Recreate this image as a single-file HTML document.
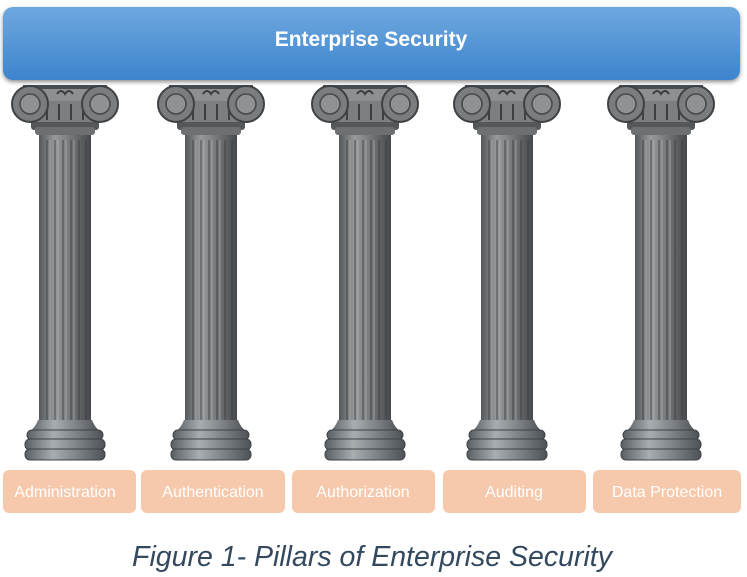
<!DOCTYPE html>
<html><head><meta charset="utf-8"><style>
html,body{margin:0;padding:0;background:#fff;width:747px;height:577px;overflow:hidden}
</style></head><body>
<svg width="747" height="577" viewBox="0 0 747 577" xmlns="http://www.w3.org/2000/svg">
<defs>
<linearGradient id="bar" x1="0" y1="0" x2="0" y2="1">
<stop offset="0" stop-color="#6ea8df"/><stop offset="1" stop-color="#3d84cd"/></linearGradient>
<linearGradient id="shaft" x1="0" y1="0" x2="1" y2="0">
<stop offset="0" stop-color="#55585b"/><stop offset="0.3" stop-color="#979a9d"/><stop offset="0.55" stop-color="#7c7f82"/><stop offset="1" stop-color="#46494c"/></linearGradient>
<linearGradient id="base" x1="0" y1="0" x2="1" y2="0">
<stop offset="0" stop-color="#5a5f63"/><stop offset="0.35" stop-color="#a8adb0"/><stop offset="1" stop-color="#4e5256"/></linearGradient>
<filter id="sh"><feDropShadow dx="0" dy="2" stdDeviation="2" flood-opacity="0.45"/></filter>
<g id="p">
<rect x="-26" y="132" width="52" height="292" fill="url(#shaft)"/>
<g stroke="#3a3d40" stroke-width="1.2" opacity="0.7">
<line x1="-18" y1="140" x2="-18" y2="420"/><line x1="-10" y1="140" x2="-10" y2="420"/>
<line x1="-2" y1="140" x2="-2" y2="420"/><line x1="6" y1="140" x2="6" y2="420"/>
<line x1="14" y1="140" x2="14" y2="420"/><line x1="21" y1="140" x2="21" y2="420"/></g>
<g stroke="#b5b8ba" stroke-width="1" opacity="0.6">
<line x1="-15" y1="140" x2="-15" y2="420"/><line x1="-7" y1="140" x2="-7" y2="420"/>
<line x1="1" y1="140" x2="1" y2="420"/><line x1="9" y1="140" x2="9" y2="420"/></g>
<path d="M-27,420 Q-30,428 -36,432 L36,432 Q30,428 27,420Z" fill="url(#base)"/>
<rect x="-38" y="430" width="76" height="10" rx="5" fill="url(#base)" stroke="#3e4245" stroke-width="1"/>
<rect x="-40" y="439" width="80" height="11" rx="5" fill="url(#base)" stroke="#3e4245" stroke-width="1"/>
<rect x="-40" y="449" width="80" height="11" rx="5" fill="url(#base)" stroke="#3e4245" stroke-width="1"/>
<rect x="-34" y="120" width="68" height="10" rx="3" fill="#55585b"/>
<rect x="-30" y="127" width="60" height="8" rx="3" fill="#6d7073"/>
<path d="M-36,100 L36,100 L30,122 L-30,122Z" fill="#7c7f82"/>
<g stroke="#3c3f42" stroke-width="2"><line x1="-18" y1="104" x2="-18" y2="120"/><line x1="-6" y1="104" x2="-6" y2="120"/><line x1="6" y1="104" x2="6" y2="120"/><line x1="18" y1="104" x2="18" y2="120"/></g>
<rect x="-44" y="87" width="88" height="14" fill="#8d9093"/>
<rect x="-42" y="85" width="84" height="4" fill="#4a4d50"/>
<circle cx="-35" cy="104" r="18" fill="#7a7d80" stroke="#3f4245" stroke-width="2"/>
<circle cx="35" cy="104" r="18" fill="#7a7d80" stroke="#3f4245" stroke-width="2"/>
<circle cx="-35" cy="104" r="10" fill="#8f9295" stroke="#45484b" stroke-width="1.5"/>
<circle cx="35" cy="104" r="10" fill="#8f9295" stroke="#45484b" stroke-width="1.5"/>
<path d="M-8,94 q4,-6 8,0 q4,-6 8,0" fill="none" stroke="#3a3d40" stroke-width="2"/>
</g>
</defs>
<rect x="3" y="7" width="737" height="73" rx="10" fill="url(#bar)" filter="url(#sh)"/>
<text x="371" y="46" text-anchor="middle" font-family="Liberation Sans, sans-serif" font-weight="bold" font-size="21" fill="#fff">Enterprise Security</text>
<use href="#p" x="65"/><use href="#p" x="211"/><use href="#p" x="365"/><use href="#p" x="507"/><use href="#p" x="661"/>
<g fill="#f6c9ac">
<rect x="3" y="470" width="133" height="43" rx="6"/>
<rect x="141" y="470" width="144" height="43" rx="6"/>
<rect x="292" y="470" width="143" height="43" rx="6"/>
<rect x="443" y="470" width="143" height="43" rx="6"/>
<rect x="593" y="470" width="148" height="43" rx="6"/>
</g>
<g font-family="Liberation Sans, sans-serif" font-size="16" fill="#fff" text-anchor="middle">
<text x="65" y="497">Administration</text>
<text x="213" y="497">Authentication</text>
<text x="363" y="497">Authorization</text>
<text x="514" y="497">Auditing</text>
<text x="667" y="497">Data Protection</text>
</g>
<text x="372" y="566" text-anchor="middle" font-family="Liberation Sans, sans-serif" font-style="italic" font-size="28.5" fill="#34495e">Figure 1- Pillars of Enterprise Security</text>
</svg>
</body></html>
